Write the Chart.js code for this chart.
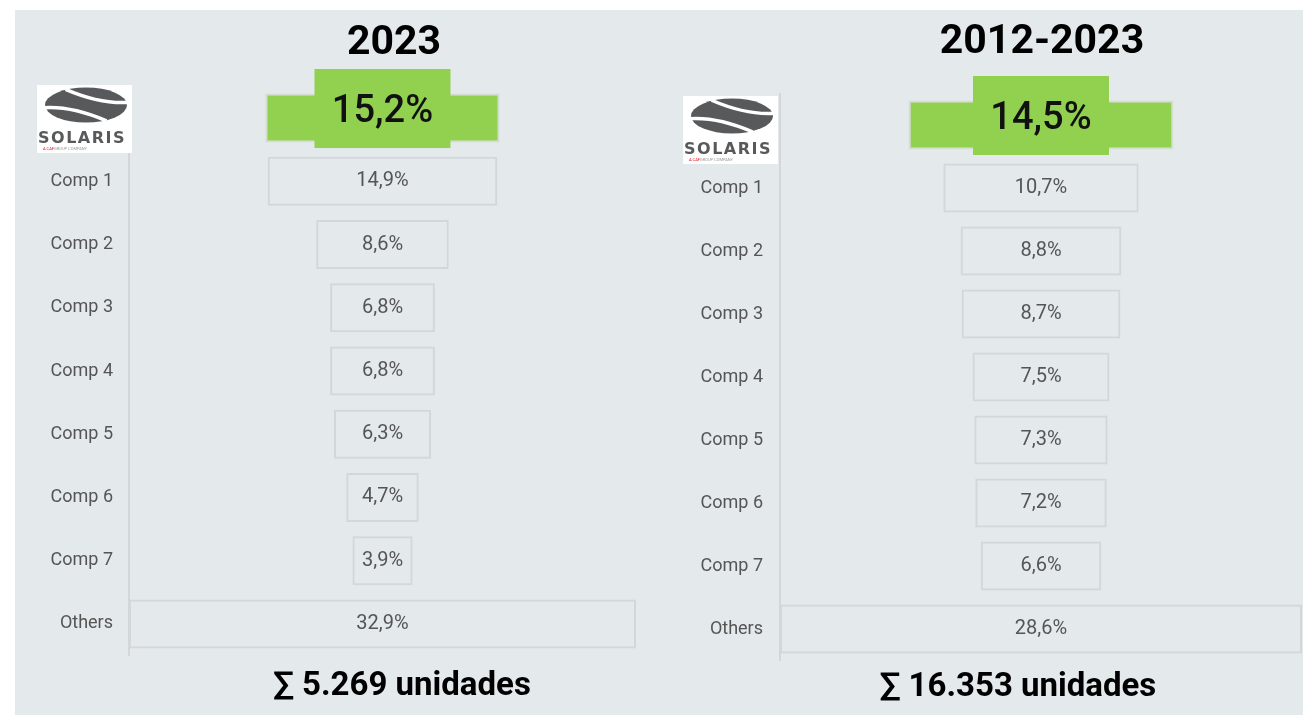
<!DOCTYPE html>
<html><head><meta charset="utf-8">
<script src="https://cdn.jsdelivr.net/npm/chart.js@4.4.1/dist/chart.umd.min.js"></script>
<style>
html,body{margin:0;padding:0;background:#fff;width:1303px;height:715px;overflow:hidden}
#panel{position:absolute;left:15px;top:10px;width:1288px;height:705px;background:#e4e9ec}
.box{position:absolute;top:0;height:715px}
#b1{left:0;width:655px}
#b2{left:655px;width:648px}
.txt{position:absolute;width:400px;text-align:center;font-family:Roboto;font-weight:bold;color:#000;white-space:nowrap}
.ttl{font-size:41px;line-height:48px}
.tot{font-size:33px;line-height:40px}
</style></head><body>
<div id="panel"></div>
<div class="box" id="b1"><canvas id="c1"></canvas></div>
<div class="box" id="b2"><canvas id="c2"></canvas></div>
<div class="txt ttl" id="t1" style="left:194px;top:16px"></div>
<div class="txt ttl" id="t2" style="left:842px;top:15px"></div>
<div class="txt tot" id="s1" style="left:202px;top:664px"></div>
<div class="txt tot" id="s2" style="left:818px;top:665px"></div>
<script>
// ---- data ----
const categories = ['Solaris','Comp 1','Comp 2','Comp 3','Comp 4','Comp 5','Comp 6','Comp 7','Others'];
const share2023 = [15.2,14.9,8.6,6.8,6.8,6.3,4.7,3.9,32.9];
const share2012_2023 = [14.5,10.7,8.8,8.7,7.5,7.3,7.2,6.6,28.6];
const titles = ['2023','2012-2023'];
const totals = ['∑ 5.269 unidades','∑ 16.353 unidades'];

document.getElementById('t1').textContent = titles[0];
document.getElementById('t2').textContent = titles[1];
document.getElementById('s1').textContent = totals[0];
document.getElementById('s2').textContent = totals[1];

Chart.defaults.font.family = 'Roboto';

const GREEN = '#92d050';
const fmt = v => v.toFixed(1).replace('.', ',') + '%';

function drawLogo(ctx, bx, by){
  const w = 95, h = 68;
  ctx.save();
  ctx.fillStyle = '#ffffff';
  ctx.fillRect(bx, by, w, h);
  const cx = bx + 49, cy = by + 20, rx = 41, ry = 17.5;
  ctx.fillStyle = '#58595b';
  ctx.beginPath();
  ctx.ellipse(cx, cy, rx, ry, 0, 0, Math.PI*2);
  ctx.fill();
  ctx.strokeStyle = '#ffffff';
  ctx.lineWidth = 3.5;
  ctx.beginPath();
  ctx.moveTo(cx - rx*1.02, cy + ry*0.15);
  ctx.quadraticCurveTo(cx - rx*0.35, cy + ry*0.05, cx + rx*0.5, cy + ry*0.9);
  ctx.stroke();
  ctx.beginPath();
  ctx.moveTo(cx - rx*0.5, cy - ry*0.9);
  ctx.quadraticCurveTo(cx + rx*0.35, cy - ry*0.05, cx + rx*1.02, cy - ry*0.15);
  ctx.stroke();
  ctx.fillStyle = '#58595b';
  ctx.font = 'bold 16px "DejaVu Sans"';
  ctx.textAlign = 'center';
  ctx.textBaseline = 'middle';
  try { ctx.letterSpacing = '1.5px'; } catch(e) {}
  ctx.fillText('SOLARIS', cx - 4, by + 54);
  try { ctx.letterSpacing = '0px'; } catch(e) {}
  ctx.font = '4px Roboto';
  ctx.textAlign = 'left';
  ctx.fillStyle = '#e30613';
  ctx.fillText('A CAF', bx + 6, by + 64);
  ctx.fillStyle = '#999';
  ctx.fillText('GROUP COMPANY', bx + 17, by + 64);
  ctx.restore();
}

const decoPlugin = {
  id: 'deco',
  afterDatasetsDraw(chart){
    const ctx = chart.ctx;
    const ds = chart.data.datasets[0];
    const values = ds.shares;
    const meta = chart.getDatasetMeta(0);
    meta.data.forEach((el, i) => {
      const cx = (el.x + el.base) / 2;
      let ty = el.y;
      if (i === 0) {
        ctx.save();
        ctx.fillStyle = GREEN;
        ctx.fillRect(cx - 68, el.y - 49, 136, 79);
        ctx.restore();
        ty = el.y - 5.5;
      }
      ctx.save();
      ctx.textAlign = 'center';
      ctx.textBaseline = 'middle';
      if (i === 0) {
        ctx.font = '500 38px Roboto';
        ctx.fillStyle = '#111';
      } else {
        ctx.font = '20px Roboto';
        ctx.fillStyle = '#555';
      }
      ctx.fillText(fmt(values[i]), cx, ty);
      ctx.restore();
    });
  },
  afterDraw(chart){
    const L = chart.options.plugins.deco;
    const y = chart.scales.y.getPixelForValue(0);
    drawLogo(chart.ctx, chart.chartArea.left - L.logoDx, y - L.logoDy);
  }
};

function makeChart(id, values, L){
  const max = values[values.length - 1];
  return new Chart(document.getElementById(id), {
    type: 'bar',
    data: {
      labels: categories,
      datasets: [{
        shares: values,
        data: values.map(v => [-v/2, v/2]),
        backgroundColor: c => c.dataIndex === 0 ? GREEN : 'rgba(0,0,0,0)',
        borderColor: c => c.dataIndex === 0 ? '#d5dcd0' : '#d3d7da',
        borderWidth: 2,
        borderSkipped: false,
        categoryPercentage: 1,
        barPercentage: 0.775
      }]
    },
    options: {
      indexAxis: 'y',
      responsive: true,
      maintainAspectRatio: false,
      animation: false,
      layout: {padding: {left: 0, right: L.padRight, top: L.top, bottom: L.bottom}},
      plugins: {
        legend: {display: false},
        tooltip: {enabled: false},
        deco: {logoDx: L.logoDx, logoDy: L.logoDy}
      },
      scales: {
        x: {display: false, min: -max/2, max: max/2},
        y: {
          grid: {display: false, drawTicks: false},
          border: {display: true, color: '#d3d7da', width: 2},
          ticks: {color: '#555', font: {size: 18}, padding: L.tickPad,
            callback: (v, i) => i === 0 ? '' : categories[i]},
          afterFit: s => { s.width = L.axisWidth; }
        }
      }
    },
    plugins: [decoPlugin]
  });
}

makeChart('c1', share2023, {padRight: 19, axisWidth: 129, tickPad: 16, top: 86.4, bottom: 59.4, logoDx: 92, logoDy: 33});
makeChart('c2', share2012_2023, {padRight: 1, axisWidth: 125, tickPad: 17, top: 93.5, bottom: 54.5, logoDx: 97, logoDy: 29});
</script>
</body></html>
